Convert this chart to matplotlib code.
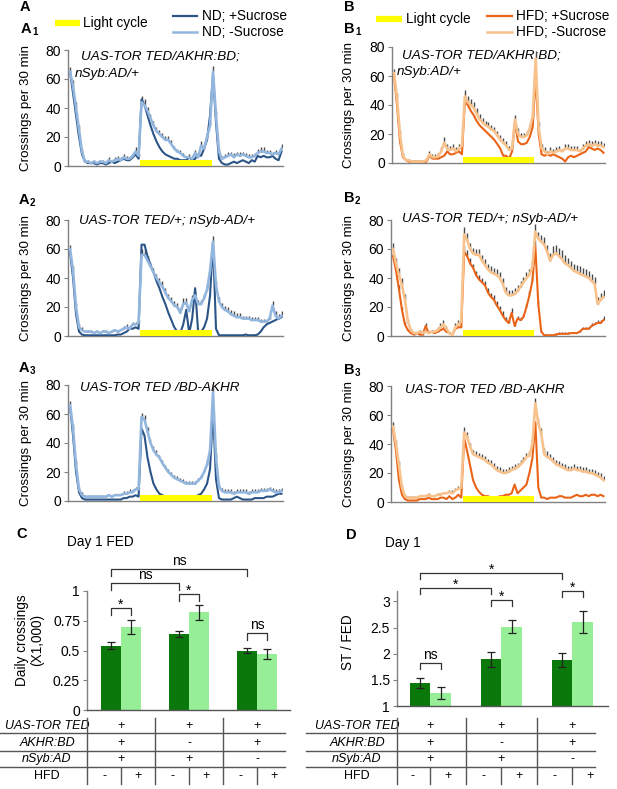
import numpy as np
import matplotlib.pyplot as plt
from matplotlib.transforms import blended_transform_factory

plt.rcParams['font.family'] = ['Liberation Sans', 'DejaVu Sans']

# half-hour bins over 36 h, lights on from bin 24 to bin 48
bins = np.arange(72)
light_on, light_off = 24, 48

# ---- activity traces (crossings per 30 min) ----
A1_fed = [65, 50, 35, 20, 8, 3, 2, 2, 2, 1, 2, 2, 1, 2, 3, 2, 3, 4, 5, 4, 4, 6, 8, 5,
          46, 42, 35, 28, 22, 17, 13, 10, 8, 7, 6, 5, 5, 4, 4, 4, 6, 4, 5, 8, 7, 12, 18, 35,
          63, 30, 5, 2, 1, 1, 2, 3, 2, 3, 4, 3, 2, 4, 3, 7, 6, 7, 6, 6, 7, 5, 4, 10]
A1_st = [65, 55, 40, 25, 10, 3, 3, 2, 3, 2, 3, 3, 2, 4, 3, 4, 5, 4, 6, 5, 5, 7, 10, 7,
         44, 42, 38, 33, 28, 24, 22, 20, 18, 18, 15, 12, 10, 9, 7, 6, 6, 5, 9, 6, 14, 12, 20, 28,
         65, 35, 10, 5, 6, 7, 8, 6, 8, 7, 8, 7, 6, 6, 7, 9, 10, 10, 9, 9, 8, 9, 8, 12]
A1_st_sem = [3, 4, 4, 3, 2, 1, 1, 1, 1, 1, 1, 1, 1, 2, 1, 2, 2, 2, 2, 2, 2, 2, 3, 2,
             4, 4, 3, 3, 3, 3, 3, 3, 3, 3, 3, 2, 2, 2, 2, 1, 2, 1, 2, 2, 3, 3, 3, 3,
             4, 3, 2, 2, 2, 3, 2, 3, 2, 3, 2, 2, 2, 2, 2, 3, 3, 3, 2, 2, 2, 2, 2, 3]

A2_fed = [58, 40, 15, 3, 1, 0.5, 0.5, 0.5, 0.5, 0.5, 0.5, 0.5, 0.5, 0.5, 0.5, 0.5, 1, 1, 2, 3, 5, 5, 6, 5,
          63, 63, 55, 49, 44, 38, 33, 27, 22, 16, 11, 6, 3, 2, 8, 18, 2, 12, 33, 3, 3, 6, 12, 28,
          65, 5, 0.5, 0.5, 0.5, 0.5, 0.5, 0.5, 0.5, 0.5, 0.5, 1, 0.5, 0.5, 0.5, 1, 3, 6, 8, 9, 10, 11, 12, 13]
A2_st = [60, 45, 20, 6, 4, 3, 3, 3, 2, 3, 2, 3, 3, 2, 3, 4, 3, 4, 5, 6, 5, 8, 8, 9,
         56, 56, 52, 48, 44, 40, 37, 34, 30, 26, 24, 21, 20, 16, 22, 23, 17, 25, 28, 22, 22, 26, 32, 45,
         65, 35, 24, 20, 18, 17, 15, 14, 13, 13, 12, 12, 12, 11, 11, 11, 10, 10, 10, 12, 21, 14, 12, 14]
A2_st_sem = [3, 3, 3, 2, 2, 1, 1, 1, 1, 1, 1, 1, 1, 1, 1, 1, 1, 1, 2, 2, 2, 2, 2, 2,
             4, 4, 3, 3, 3, 3, 3, 4, 3, 3, 3, 3, 3, 3, 4, 3, 3, 3, 3, 3, 3, 3, 3, 3,
             4, 3, 3, 3, 3, 3, 3, 3, 3, 3, 2, 2, 2, 2, 2, 2, 2, 2, 2, 2, 3, 3, 3, 3]

A3_fed = [65, 45, 20, 6, 2, 1, 1, 1, 1, 1, 1, 1, 1, 1, 1, 1, 1, 1, 2, 2, 3, 3, 4, 3,
          50, 45, 30, 20, 12, 8, 5, 4, 3, 3, 3, 2, 2, 2, 2, 2, 3, 2, 3, 4, 5, 8, 12, 22,
          62, 15, 2, 1, 1, 1, 1, 2, 3, 2, 1, 1, 1, 1, 2, 2, 2, 2, 3, 3, 3, 4, 5, 5]
A3_st = [66, 50, 25, 8, 4, 3, 3, 3, 3, 3, 3, 3, 3, 4, 3, 4, 4, 4, 5, 5, 6, 6, 8, 8,
         58, 56, 48, 40, 35, 32, 30, 26, 23, 20, 18, 16, 15, 14, 13, 12, 12, 12, 12, 14, 16, 20, 25, 35,
         75, 30, 10, 7, 6, 6, 6, 5, 6, 6, 6, 6, 5, 6, 6, 6, 7, 7, 7, 8, 7, 6, 6, 7]
A3_st_sem = [3, 3, 3, 2, 2, 1, 1, 1, 1, 1, 1, 1, 1, 1, 1, 1, 1, 1, 2, 2, 2, 2, 2, 2,
             3, 3, 3, 3, 3, 3, 2, 2, 2, 2, 2, 2, 2, 2, 2, 2, 2, 2, 2, 2, 2, 2, 3, 3,
             4, 3, 2, 2, 2, 2, 2, 2, 2, 2, 2, 2, 2, 2, 2, 2, 2, 2, 2, 2, 2, 2, 2, 2]

B1_fed = [60, 40, 15, 4, 2, 1, 1, 1, 1, 1, 0.5, 1, 5, 3, 3, 3, 4, 5, 8, 6, 6, 7, 8, 6,
          42, 40, 36, 33, 29, 26, 24, 22, 20, 18, 16, 13, 10, 5, 5, 3, 8, 28, 15, 13, 13, 14, 18, 25,
          60, 20, 6, 5, 6, 5, 6, 5, 4, 3, 1, 4, 5, 4, 5, 6, 7, 8, 11, 10, 9, 10, 9, 7]
B1_st = [62, 45, 20, 5, 2, 2, 1, 1, 1, 1, 1, 2, 6, 4, 4, 5, 8, 14, 10, 9, 10, 8, 10, 12,
         46, 42, 40, 38, 34, 30, 28, 26, 25, 23, 22, 19, 16, 14, 12, 9, 10, 30, 20, 18, 18, 19, 24, 32,
         72, 25, 10, 8, 6, 8, 7, 8, 9, 8, 10, 10, 9, 9, 9, 8, 10, 12, 13, 12, 13, 12, 12, 11]
B1_st_sem = [3, 3, 3, 2, 1, 1, 1, 1, 1, 1, 1, 1, 2, 2, 2, 2, 3, 4, 3, 3, 3, 3, 3, 3,
             4, 4, 4, 4, 4, 4, 3, 3, 3, 3, 3, 3, 3, 3, 3, 3, 3, 3, 4, 3, 3, 3, 3, 3,
             5, 3, 3, 3, 2, 3, 3, 3, 3, 2, 3, 3, 3, 3, 3, 2, 3, 3, 3, 3, 3, 3, 3, 3]

B2_fed = [55, 45, 32, 18, 8, 4, 2, 1, 2, 1, 1, 7, 2, 3, 2, 3, 4, 5, 3, 2, 1, 5, 6, 6,
          58, 55, 50, 47, 42, 39, 37, 35, 30, 27, 25, 21, 18, 14, 11, 9, 16, 7, 12, 11, 13, 20, 28, 38,
          62, 22, 3, 0.5, 0.5, 0.5, 0.5, 1, 1.5, 1.5, 1.5, 1.5, 2, 2, 2, 3, 5, 5, 5, 7, 8, 9, 9, 11]
B2_fed_sem = [3, 3, 3, 2, 2, 1, 1, 1, 1, 1, 1, 2, 1, 1, 1, 1, 1, 1, 1, 1, 1, 1, 1, 1,
              4, 4, 4, 3, 3, 3, 3, 3, 3, 3, 3, 3, 3, 3, 2, 2, 3, 2, 2, 2, 2, 2, 3, 3,
              4, 2, 1, 1, 1, 1, 1, 1, 1, 1, 1, 1, 1, 1, 1, 1, 1, 1, 1, 2, 2, 2, 2, 3]
B2_st = [60, 50, 42, 35, 25, 10, 4, 2, 2, 3, 2, 3, 2, 3, 3, 4, 6, 8, 5, 2, 0.5, 6, 8, 10,
         70, 66, 60, 57, 56, 56, 52, 49, 46, 44, 43, 42, 40, 36, 30, 28, 28, 29, 31, 34, 37, 40, 42, 48,
         72, 67, 65, 63, 58, 52, 56, 57, 55, 53, 50, 49, 47, 45, 44, 43, 42, 41, 40, 38, 36, 22, 25, 27]
B2_st_sem = [4, 4, 5, 5, 4, 2, 1, 1, 1, 1, 1, 1, 1, 1, 1, 2, 3, 3, 2, 1, 1, 3, 3, 3,
             5, 5, 4, 4, 4, 4, 4, 4, 4, 4, 4, 4, 4, 4, 4, 4, 4, 4, 4, 4, 4, 4, 4, 4,
             5, 5, 5, 5, 5, 5, 6, 6, 6, 6, 6, 5, 5, 5, 5, 5, 5, 5, 5, 5, 5, 5, 5, 5]

B3_fed = [50, 35, 15, 5, 2, 1, 1, 1, 1, 2, 2, 2, 3, 2, 2, 2, 3, 3, 2, 4, 2, 3, 5, 3,
          44, 35, 25, 15, 10, 7, 5, 4, 4, 3, 3, 3, 4, 4, 5, 5, 6, 12, 6, 8, 10, 12, 20, 30,
          55, 10, 3, 3, 2, 3, 3, 3, 4, 4, 3, 3, 3, 4, 5, 4, 4, 5, 4, 5, 5, 4, 5, 4]
B3_st = [52, 40, 25, 10, 4, 3, 3, 3, 3, 4, 4, 4, 5, 4, 4, 5, 5, 6, 6, 7, 6, 8, 9, 10,
         48, 45, 38, 33, 32, 31, 30, 29, 27, 26, 24, 22, 21, 20, 20, 21, 22, 23, 24, 26, 28, 31, 32, 40,
         68, 54, 47, 33, 31, 30, 28, 26, 25, 24, 23, 22, 22, 23, 22, 22, 21, 21, 20, 20, 19, 18, 17, 15]
B3_st_sem = [3, 3, 3, 2, 1, 1, 1, 1, 1, 1, 1, 1, 1, 1, 1, 1, 1, 1, 1, 1, 2, 2, 2, 2,
             4, 3, 3, 3, 3, 3, 3, 3, 3, 3, 3, 3, 3, 3, 3, 3, 3, 3, 3, 3, 3, 3, 3, 3,
             4, 4, 4, 4, 4, 3, 3, 3, 3, 3, 3, 3, 3, 3, 3, 3, 3, 3, 3, 3, 3, 3, 3, 3]

# ---- daily crossings (x1000) and starved/fed ratio ----
crossings_nd = [0.54, 0.64, 0.50]
crossings_nd_err = [0.03, 0.025, 0.025]
crossings_hfd = [0.70, 0.82, 0.47]
crossings_hfd_err = [0.06, 0.06, 0.045]
ratio_nd = [1.44, 1.89, 1.88]
ratio_nd_err = [0.10, 0.15, 0.14]
ratio_hfd = [1.25, 2.52, 2.60]
ratio_hfd_err = [0.11, 0.13, 0.21]

gene_rows = ['UAS-TOR TED', 'AKHR:BD', 'nSyb:AD']
gene_signs = [['+', '+', '+'], ['+', '-', '+'], ['+', '+', '-']]
hfd_signs = ['-', '+']

nd_fed_c, nd_st_c = '#2c5587', '#93b6de'
hfd_fed_c, hfd_st_c = '#ea6418', '#f8c28c'
green_dark, green_light = '#0b780b', '#96ee96'
grey = '#808080'

W, H = 617, 789
fig = plt.figure(figsize=(W / 100, H / 100), dpi=100)
ov = fig.add_axes([0, 0, 1, 1])
ov.set_xlim(0, W)
ov.set_ylim(H, 0)
ov.axis('off')


def box(l, t, r, b):
    ax = fig.add_axes([l / W, 1 - b / H, (r - l) / W, (b - t) / H])
    ax.patch.set_visible(False)
    for s in ['top', 'right']:
        ax.spines[s].set_visible(False)
    for s in ['left', 'bottom']:
        ax.spines[s].set_color(grey)
        ax.spines[s].set_linewidth(1.0)
    ax.tick_params(axis='y', length=3, width=0.8, color=grey, pad=2, labelsize=10)
    ax.tick_params(axis='x', length=0, labelbottom=False)
    return ax


def activity(ax, fed, st, st_sem, c_fed, c_st, fed_sem=None):
    ax.vlines(bins, st, np.add(st, st_sem), color='#4a4a4a', lw=1.0, zorder=2)
    if fed_sem is not None:
        ax.vlines(bins, fed, np.add(fed, fed_sem), color='#4a4a4a', lw=1.0, zorder=2)
    ax.plot(bins, fed, color=c_fed, lw=1.5, zorder=3)
    ax.plot(bins, st, color=c_st, lw=1.9, zorder=4)
    ax.fill_between([light_on - 0.5, light_off - 0.5], 0, 4, color='#ffff00', lw=0, zorder=5)
    ax.set_xlim(-0.7, 71.5)
    ax.set_ylim(0, 80)
    ax.set_yticks([0, 20, 40, 60, 80])


def panel_label(x, y, letter, sub=None):
    ov.text(x, y, letter, fontsize=10.5, fontweight='bold', ha='left', va='center')
    if sub:
        ov.text(x + 11, y + 3, sub, fontsize=7, fontweight='bold', ha='left', va='center')


# ---- A / B activity panels ----
act = [
    ((68, 50, 283, 166), A1_fed, A1_st, A1_st_sem, None, 'ND'),
    ((68, 220, 283, 336), A2_fed, A2_st, A2_st_sem, None, 'ND'),
    ((68, 385, 283, 501), A3_fed, A3_st, A3_st_sem, None, 'ND'),
    ((392, 47, 605, 163), B1_fed, B1_st, B1_st_sem, None, 'HFD'),
    ((391, 220, 605, 336), B2_fed, B2_st, B2_st_sem, B2_fed_sem, 'HFD'),
    ((391, 386, 605, 502), B3_fed, B3_st, B3_st_sem, None, 'HFD'),
]
for rect, fed, st, sem, fsem, diet in act:
    ax = box(*rect)
    if diet == 'ND':
        activity(ax, fed, st, sem, nd_fed_c, nd_st_c, fsem)
        lx = 26
    else:
        activity(ax, fed, st, sem, hfd_fed_c, hfd_st_c, fsem)
        lx = 349
    ov.text(lx, (rect[1] + rect[3]) / 2, 'Crossings per 30 min', rotation=90,
            ha='center', va='center', fontsize=9.6)

sub_kw = dict(fontsize=9.7, style='italic', ha='left', va='center')
ov.text(81, 56, 'UAS-TOR TED/AKHR:BD;', **sub_kw)
ov.text(75, 74, 'nSyb:AD/+', **sub_kw)
ov.text(79, 221, 'UAS-TOR TED/+; nSyb-AD/+', **sub_kw)
ov.text(80, 388, 'UAS-TOR TED /BD-AKHR', **sub_kw)
ov.text(402, 55, 'UAS-TOR TED/AKHR:BD;', **sub_kw)
ov.text(397, 72, 'nSyb:AD/+', **sub_kw)
ov.text(402, 219, 'UAS-TOR TED/+; nSyb-AD/+', **sub_kw)
ov.text(405, 390, 'UAS-TOR TED /BD-AKHR', **sub_kw)

panel_label(20, 7, 'A')
panel_label(21, 29, 'A', '1')
panel_label(19, 200, 'A', '2')
panel_label(19, 368, 'A', '3')
panel_label(344, 7, 'B')
panel_label(344, 29, 'B', '1')
panel_label(344, 198, 'B', '2')
panel_label(344, 370, 'B', '3')

# legends
leg_kw = dict(fontsize=9.8, ha='left', va='center')
ov.plot([55, 80], [23, 23], color='#ffff00', lw=4.5, solid_capstyle='butt')
ov.text(83, 23, 'Light cycle', **leg_kw)
ov.plot([173, 197], [16, 16], color=nd_fed_c, lw=1.6)
ov.text(202, 16, 'ND; +Sucrose', **leg_kw)
ov.plot([173, 197], [32, 32], color=nd_st_c, lw=1.8)
ov.text(202, 32, 'ND; -Sucrose', **leg_kw)
ov.plot([376, 402], [19, 19], color='#ffff00', lw=4.5, solid_capstyle='butt')
ov.text(406, 19, 'Light cycle', **leg_kw)
ov.plot([487, 512], [16, 16], color=hfd_fed_c, lw=1.6)
ov.text(516, 16, 'HFD; +Sucrose', **leg_kw)
ov.plot([487, 512], [32, 32], color=hfd_st_c, lw=1.8)
ov.text(516, 32, 'HFD; -Sucrose', **leg_kw)


# ---- C / D bar panels ----
def bar_panel(ax, nd, nd_e, hfd, hfd_e, w):
    x = np.arange(3)
    ekw = dict(ecolor='#222222', elinewidth=0.9, capthick=0.9)
    ax.bar(x - w / 2, nd, w, yerr=nd_e, capsize=3, color=green_dark, error_kw=ekw)
    ax.bar(x + w / 2, hfd, w, yerr=hfd_e, capsize=3, color=green_light, error_kw=ekw)
    ax.spines['bottom'].set_color('#555555')
    return x - w / 2, x + w / 2


def bracket(ax, x1, x2, y, drop, label):
    ax.plot([x1, x1, x2, x2], [y - drop, y, y, y - drop], color='#333333', lw=0.9,
            clip_on=False)
    if label == '*':
        ax.annotate(label, ((x1 + x2) / 2, y), xytext=(0, -2.5), textcoords='offset points',
                    ha='center', va='bottom', fontsize=10, annotation_clip=False)
    else:
        ax.annotate(label, ((x1 + x2) / 2, y), xytext=(0, 1), textcoords='offset points',
                    ha='center', va='bottom', fontsize=10, annotation_clip=False)


def table(ax, label_x, x0, x1):
    tr = blended_transform_factory(ax.transData, ov.transData)
    for y in (733, 751, 767):
        ov.plot([x0, x1], [y, y], color='#555555', lw=1.0)
    for xv in (ax.get_xlim()[0], 0.5, 1.5):
        ax.plot([xv, xv], [718, 784], transform=tr, clip_on=False, color='#555555', lw=1.0)
    for g in range(3):
        ax.plot([g, g], [768, 784], transform=tr, clip_on=False, color='#555555', lw=1.0)
    row_y = [726, 743, 759]
    for name, signs, y in zip(gene_rows, gene_signs, row_y):
        ov.text(label_x, y, name, style='italic', ha='center', va='center', fontsize=9)
        for g, s in enumerate(signs):
            ax.text(g, y, s, transform=tr, ha='center', va='center', fontsize=9)
    ov.text(label_x, 776, 'HFD', ha='center', va='center', fontsize=9)
    for g in range(3):
        for k, s in enumerate(hfd_signs):
            ax.text(g + (k - 0.5) * 0.5, 776, s, transform=tr, ha='center', va='center',
                    fontsize=9)


axC = box(87, 591, 290, 710)
xd, xl = bar_panel(axC, crossings_nd, crossings_nd_err, crossings_hfd, crossings_hfd_err, 0.287)
axC.set_xlim(-0.5, 2.485)
axC.set_ylim(0, 1)
axC.set_yticks([0, 0.25, 0.5, 0.75, 1])
axC.set_yticklabels(['0', '0.25', '0.5', '0.75', '1'])
bracket(axC, xd[0], xl[0], 0.857, 0.055, '*')
bracket(axC, xd[0], xd[1], 1.067, 0.055, 'ns')
bracket(axC, xd[1], xl[1], 0.975, 0.055, '*')
bracket(axC, xd[0], xd[2], 1.185, 0.055, 'ns')
bracket(axC, xd[2], xl[2], 0.647, 0.055, 'ns')
table(axC, 47, 0, 285)

axD = box(397, 591, 608, 706)
xd, xl = bar_panel(axD, ratio_nd, ratio_nd_err, ratio_hfd, ratio_hfd_err, 0.29)
axD.set_xlim(-0.47, 2.5)
axD.set_ylim(1, 3.2)
axD.set_yticks([1, 1.5, 2, 2.5, 3])
axD.set_yticklabels(['1', '1.5', '2', '2.5', '3'])
bracket(axD, xd[0], xl[0], 1.82, 0.115, 'ns')
bracket(axD, xd[0], xd[1], 3.26, 0.115, '*')
bracket(axD, xd[1], xl[1], 3.03, 0.115, '*')
bracket(axD, xd[0], xd[2], 3.54, 0.115, '*')
bracket(axD, xd[2], xl[2], 3.20, 0.115, '*')
table(axD, 357, 306, 595)

panel_label(16, 534, 'C')
panel_label(346, 535, 'D')
ov.text(67, 542, 'Day 1 FED', fontsize=9.8, ha='left', va='center')
ov.text(385, 543, 'Day 1', fontsize=9.8, ha='left', va='center')
ov.text(30, 640, 'Daily crossings\n(X1,000)', rotation=90, ha='center', va='center',
        fontsize=9.8, linespacing=1.1)
ov.text(348, 642, 'ST / FED', rotation=90, ha='center', va='center', fontsize=9.8)

fig.savefig('out.png', dpi=100, facecolor='white')
